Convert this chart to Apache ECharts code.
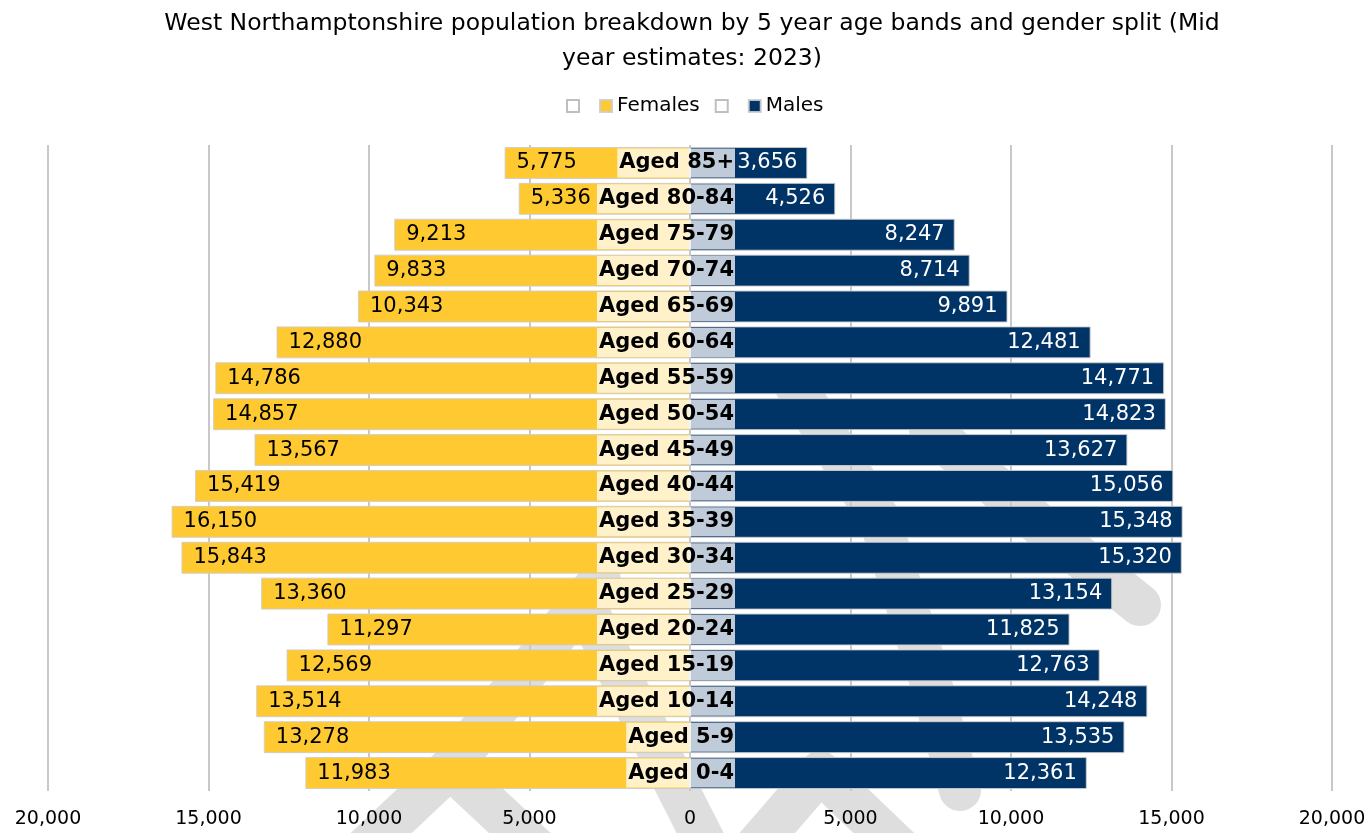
<!DOCTYPE html>
<html>
<head>
<meta charset="utf-8">
<script src="https://cdn.jsdelivr.net/npm/echarts@6/dist/echarts.min.js"></script>
<style>
  html, body { margin: 0; padding: 0; background: #fff; }
  #chart { width: 1371px; height: 833px; }
</style>
</head>
<body>
<div id="chart"></div>
<script>
// Age bands, oldest first (drawn top to bottom)
const ageBands = [
  'Aged 85+', 'Aged 80-84', 'Aged 75-79', 'Aged 70-74', 'Aged 65-69', 'Aged 60-64',
  'Aged 55-59', 'Aged 50-54', 'Aged 45-49', 'Aged 40-44', 'Aged 35-39', 'Aged 30-34',
  'Aged 25-29', 'Aged 20-24', 'Aged 15-19', 'Aged 10-14', 'Aged 5-9', 'Aged 0-4'
];

// Mid-year 2023 population counts per band
const females = [
  5775, 5336, 9213, 9833, 10343, 12880,
  14786, 14857, 13567, 15419, 16150, 15843,
  13360, 11297, 12569, 13514, 13278, 11983
];
const males = [
  3656, 4526, 8247, 8714, 9891, 12481,
  14771, 14823, 13627, 15056, 15348, 15320,
  13154, 11825, 12763, 14248, 13535, 12361
];

// Value axis ticks (population, both directions from zero)
const axisMin = -20000;
const axisMax = 20000;
const axisStep = 5000;

const FONT = '"DejaVu Sans", Verdana, sans-serif';
const fmt = v => Math.abs(v).toLocaleString('en-GB');

const GRID_LEFT = 48;
const GRID_RIGHT = 39;
const CHART_W = 1371;

const chart = echarts.init(document.getElementById('chart'), null, { renderer: 'canvas' });

// faint grey background emblem strokes
const emblemStyle = { stroke: '#dedede', lineWidth: 42, lineCap: 'round', lineJoin: 'round', fill: null };
const emblem = [
  [[340, 872], [450, 768], [600, 580]],
  [[450, 768], [566, 876]],
  [[582, 600], [725, 882]],
  [[725, 882], [820, 772], [935, 882]],
  [[795, 385], [880, 520], [930, 680], [960, 790]],
  [[930, 430], [1040, 525], [1140, 605]]
].map(pts => ({
  type: 'polyline',
  silent: true,
  z: -10,
  shape: { points: pts },
  style: emblemStyle
}));

const plotWidth = CHART_W - GRID_LEFT - GRID_RIGHT;
// shift the category axis from the grid edge to the zero line
const zeroOffset = plotWidth * (0 - axisMin) / (axisMax - axisMin);

chart.setOption({
  animation: false,
  backgroundColor: '#ffffff',
  textStyle: { fontFamily: FONT },
  title: {
    text: 'West Northamptonshire population breakdown by 5 year age bands and gender split (Mid\nyear estimates: 2023)',
    left: 687,
    top: 1,
    textAlign: 'center',
    textStyle: {
      fontFamily: FONT,
      fontSize: 23.5,
      fontWeight: 'normal',
      color: '#000',
      lineHeight: 35
    }
  },
  legend: {
    top: 91,
    left: 561,
    itemWidth: 12,
    itemHeight: 12,
    itemGap: 15,
    icon: 'rect',
    textStyle: { fontFamily: FONT, fontSize: 20, color: '#000' },
    data: [
      { name: '\u200b' },
      { name: 'Females' },
      { name: '\u200b\u200b' },
      { name: 'Males' }
    ]
  },
  graphic: emblem,
  grid: {
    left: GRID_LEFT, right: GRID_RIGHT, top: 145, bottom: 42,
    containLabel: false,
    outerBoundsMode: 'none'
  },
  xAxis: {
    type: 'value',
    min: axisMin,
    max: axisMax,
    interval: axisStep,
    axisLine: { show: false },
    axisTick: { show: false },
    splitLine: { show: true, lineStyle: { color: '#c8c8c8', width: 2 } },
    axisLabel: {
      formatter: v => fmt(v),
      fontFamily: FONT,
      fontSize: 19,
      color: '#000',
      margin: 19
    }
  },
  yAxis: {
    type: 'category',
    data: ageBands,
    inverse: true,
    z: 10,
    offset: -zeroOffset,
    axisLine: { show: false, onZero: false },
    axisTick: { show: false },
    axisLabel: {
      margin: -45,
      align: 'right',
      fontFamily: FONT,
      fontSize: 21,
      fontWeight: 'bold',
      color: '#000',
      lineHeight: 21,
      backgroundColor: 'rgba(255,255,255,0.75)',
      padding: [4, 1, 4, 2]
    }
  },
  series: [
    {
      name: '\u200b',
      type: 'bar',
      data: [],
      itemStyle: { color: '#ffffff', borderColor: '#bfbfbf', borderWidth: 1 }
    },
    {
      name: 'Females',
      type: 'bar',
      data: females.map(v => -v),
      barGap: '-100%',
      barCategoryGap: '11%',
      itemStyle: { color: '#FFC931', borderColor: 'rgba(205,205,205,0.9)', borderWidth: 1 },
      label: {
        show: true,
        position: 'insideLeft',
        distance: 12,
        formatter: p => fmt(p.value),
        fontFamily: FONT,
        fontSize: 21,
        color: '#000'
      }
    },
    {
      name: '\u200b\u200b',
      type: 'bar',
      data: [],
      itemStyle: { color: '#ffffff', borderColor: '#bfbfbf', borderWidth: 1 }
    },
    {
      name: 'Males',
      type: 'bar',
      data: males,
      barGap: '-100%',
      barCategoryGap: '11%',
      itemStyle: { color: '#003366', borderColor: 'rgba(205,205,205,0.9)', borderWidth: 1 },
      label: {
        show: true,
        position: 'insideRight',
        distance: 10,
        formatter: p => fmt(p.value),
        fontFamily: FONT,
        fontSize: 21,
        color: '#fff'
      }
    }
  ]
});
</script>
</body>
</html>
